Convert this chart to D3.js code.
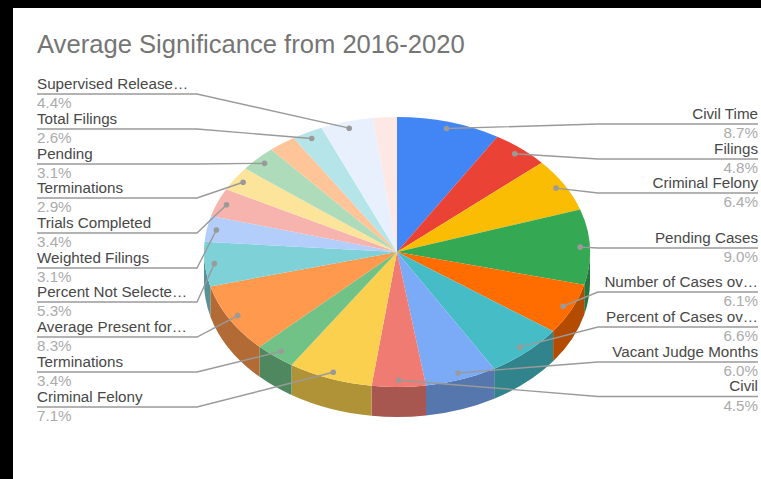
<!DOCTYPE html>
<html>
<head>
<meta charset="utf-8">
<script src="https://cdn.jsdelivr.net/npm/d3@7"></script>
<style>
  html, body { margin: 0; padding: 0; background: #fff; }
  svg { display: block; }
  text { font-family: "Liberation Sans", Arial, sans-serif; }
</style>
</head>
<body>
<script>
// Slice data, clockwise from twelve o'clock
const categories = ["Civil Time", "Filings", "Criminal Felony", "Pending Cases", "Number of Cases ov…",
  "Percent of Cases ov…", "Vacant Judge Months", "Civil", "Criminal Felony", "Terminations",
  "Average Present for…", "Percent Not Selecte…", "Weighted Filings", "Trials Completed", "Terminations",
  "Pending", "", "Total Filings", "Supervised Release…", ""];
const values = [8.7, 4.8, 6.4, 9.0, 6.1, 6.6, 6.0, 4.5, 7.1, 3.4, 8.3, 5.3, 3.1, 3.4, 2.9, 3.1, 2.3, 2.6, 4.4, 2.0];
const colors = ["#4285f4", "#ea4335", "#fbbc04", "#34a853", "#ff6d01", "#46bdc6", "#7baaf7", "#f07b72", "#fcd04f", "#71c287",
  "#ff994d", "#7ed1d7", "#b3cefb", "#f7b4ae", "#fde49b", "#aedcba", "#ffc599", "#b5e5e8", "#e8f0fe", "#fde8e6"];
const title = "Average Significance from 2016-2020";

// Baselines of the callout rules, per side of the pie
const rightRules = [124, 159, 193, 248, 292, 327, 362, 396.5];
const leftRules = [94, 129, 164, 198, 233, 268, 302, 337, 372, 407];

const W = 761, H = 479;
const cx = 397, cy = 252, rx = 193, ry = 135, depth = 30;
const squash = ry / rx;

const svg = d3.select("body").append("svg").attr("width", W).attr("height", H);
svg.append("rect").attr("width", W).attr("height", H).attr("fill", "#fff");

// Screenshot frame along the top and left edges
svg.append("rect").attr("width", W).attr("height", 8).attr("fill", "#000");
svg.append("rect").attr("width", 13).attr("height", H).attr("fill", "#000");

svg.append("text").attr("x", 37).attr("y", 52.5)
  .attr("font-size", 25.6).attr("fill", "#757575").text(title);

const color = d3.scaleOrdinal().domain(d3.range(values.length)).range(colors);
const pie = d3.pie().sort(null).value(d => d);
const slices = pie(values).map((s, i) => Object.assign(s, { i }));

const pieG = svg.append("g").attr("transform", `translate(${cx},${cy}) scale(1,${squash})`);

// Side wall: the visible lower half of the rim, extruded downward
const wallDrop = depth / squash;
function wallPath(d) {
  const a0 = Math.max(d.startAngle, Math.PI / 2) - Math.PI / 2;
  const a1 = Math.min(d.endAngle, 3 * Math.PI / 2) - Math.PI / 2;
  if (a1 <= a0) return null;
  const p = d3.path();
  p.arc(0, 0, rx, a0, a1);
  p.arc(0, wallDrop, rx, a1, a0, true);
  p.closePath();
  return p.toString();
}
function shade(c) {
  const q = d3.rgb(c);
  return d3.rgb(q.r * 0.7, q.g * 0.7, q.b * 0.7).formatHex();
}
pieG.selectAll("path.wall").data(slices.filter(wallPath)).join("path")
  .attr("class", "wall")
  .attr("d", wallPath)
  .attr("fill", d => shade(color(d.i)));

const arc = d3.arc().innerRadius(0).outerRadius(rx);
pieG.selectAll("path.top").data(slices).join("path")
  .attr("class", "top")
  .attr("d", arc)
  .attr("fill", d => color(d.i));

// Callouts: dot on the slice, elbow, then a rule with the name above and share below
const labelled = slices.filter(d => categories[d.i] !== "");
const onRight = labelled.filter(d => (d.startAngle + d.endAngle) / 2 < Math.PI);
const onLeft = labelled.filter(d => (d.startAngle + d.endAngle) / 2 >= Math.PI).reverse();

function anchorPoint(d) {
  const a = (d.startAngle + d.endAngle) / 2;
  return [cx + 0.95 * rx * Math.sin(a), cy - 0.95 * ry * Math.cos(a)];
}
const leader = d3.line();
const ruleColor = "#9a9a9a";

function callouts(list, rules, side) {
  const outerX = side === "right" ? 758 : 37;
  const elbowX = side === "right" ? 598 : 197;
  const textAnchor = side === "right" ? "end" : "start";
  const g = svg.append("g").selectAll("g").data(list).join("g");
  g.append("path")
    .attr("fill", "none").attr("stroke", ruleColor).attr("stroke-width", 1.4)
    .attr("d", (d, i) => leader([anchorPoint(d), [elbowX, rules[i]], [outerX, rules[i]]]));
  g.append("circle").attr("r", 2.8).attr("fill", ruleColor)
    .attr("cx", d => anchorPoint(d)[0]).attr("cy", d => anchorPoint(d)[1]);
  g.append("text").attr("x", outerX).attr("y", (d, i) => rules[i] - 5.5)
    .attr("text-anchor", textAnchor).attr("font-size", 15.2).attr("fill", "#484848")
    .text(d => categories[d.i]);
  g.append("text").attr("x", outerX).attr("y", (d, i) => rules[i] + 14)
    .attr("text-anchor", textAnchor).attr("font-size", 15.2).attr("fill", "#ababab")
    .text(d => d.value.toFixed(1) + "%");
}
callouts(onRight, rightRules, "right");
callouts(onLeft, leftRules, "left");
</script>
</body>
</html>
